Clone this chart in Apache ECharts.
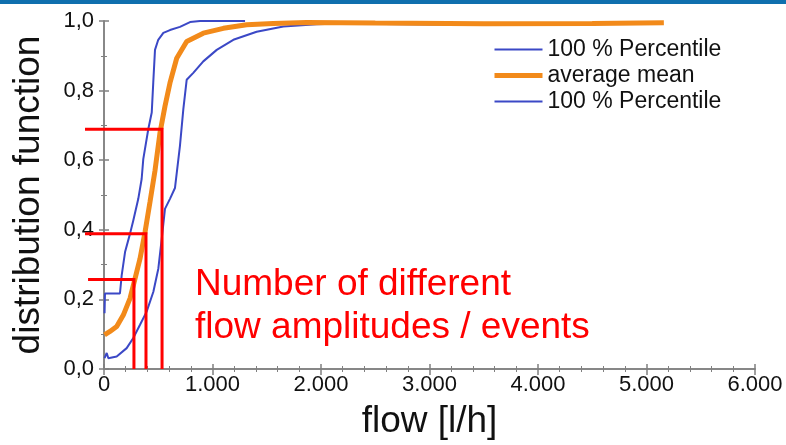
<!DOCTYPE html>
<html>
<head>
<meta charset="utf-8">
<script src="https://cdn.jsdelivr.net/npm/echarts@6/dist/echarts.min.js"></script>
<style>html,body{margin:0;padding:0;background:#fff}#c{width:786px;height:445px}</style>
</head>
<body>
<div id="c"></div>
<script>
// ---- data ----
var xTicks = [0, 1000, 2000, 3000, 4000, 5000, 6000];
var yTicks = [0, 0.2, 0.4, 0.6, 0.8, 1.0];
var seriesNames = ['100 % Percentile', 'average mean', '100 % Percentile '];
var lowerFlow = [5, 9, 147, 163, 194, 240, 270, 316, 347, 362, 408, 440, 454, 470, 500, 547, 608, 700, 793, 885, 1300];
var lowerCdf  = [0.16, 0.217, 0.217, 0.269, 0.336, 0.389, 0.427, 0.489, 0.546, 0.603, 0.689, 0.737, 0.823, 0.917, 0.946, 0.966, 0.974, 0.983, 0.997, 1.0, 1.0];
var meanFlow = [5, 55, 117, 178, 240, 286, 332, 378, 424, 470, 516, 562, 608, 670, 762, 915, 1100, 1315, 1560, 1868, 2500, 3500, 4500, 5160];
var meanCdf  = [0.098, 0.108, 0.122, 0.155, 0.203, 0.26, 0.317, 0.393, 0.48, 0.57, 0.679, 0.755, 0.822, 0.893, 0.941, 0.965, 0.979, 0.989, 0.993, 0.996, 0.994, 0.992, 0.993, 0.995];
var upperFlow = [5, 25, 40, 117, 209, 270, 332, 393, 455, 501, 532, 562, 608, 654, 700, 731, 762, 823, 915, 1039, 1192, 1407, 1653, 1960, 2175, 3000, 4200];
var upperCdf  = [0.031, 0.046, 0.031, 0.036, 0.06, 0.089, 0.127, 0.165, 0.222, 0.289, 0.374, 0.46, 0.489, 0.52, 0.641, 0.746, 0.831, 0.851, 0.884, 0.917, 0.946, 0.969, 0.984, 0.991, 0.993, 0.99, 0.99];
// annotation lines (horizontal from left start to the curve, then down to the axis)
var annotLevel = [0.689, 0.389, 0.257];
var annotFlow  = [535, 387, 276];
var annotStart = [-175, -175, -147];
var annotText = 'Number of different\nflow amplitudes / events';

function zip(a, b) { return a.map(function (v, i) { return [v, b[i]]; }); }

var blue = '#3b48c6', orange = '#f28a1a', red = '#ff0000', axisGray = '#808080';
var font = "'Liberation Sans', Arial, sans-serif";

var annotData = annotLevel.map(function (lv, i) { return [annotStart[i], annotFlow[i], lv]; });

var chart = echarts.init(document.getElementById('c'), null, { renderer: 'canvas' });
chart.setOption({
  animation: false,
  backgroundColor: '#fff',
  textStyle: { fontFamily: font },
  grid: { left: 104, right: 31, top: 21, bottom: 74 },
  legend: {
    data: [
      { name: seriesNames[0], lineStyle: { width: 2 } },
      { name: seriesNames[1], lineStyle: { width: 5 } },
      { name: seriesNames[2], lineStyle: { width: 2 } }
    ],
    orient: 'vertical', left: 487, top: 33,
    itemWidth: 48, itemHeight: 14, itemGap: 3,
    itemStyle: { opacity: 0 },
    textStyle: { fontSize: 23, color: '#111', fontFamily: font, lineHeight: 23 },
    formatter: function (n) { return n.trim(); }
  },
  xAxis: [{
    type: 'value', min: 0, max: 6000, interval: 1000,
    name: 'flow [l/h]', nameLocation: 'middle', nameGap: 34,
    nameTextStyle: { fontSize: 37, color: '#111', fontFamily: font },
    axisLine: { show: true, lineStyle: { color: axisGray, width: 1.5 } },
    axisTick: { show: true, length: 6, lineStyle: { color: axisGray, width: 1.5 } },
    minorTick: { show: true, splitNumber: 5, length: 3, lineStyle: { color: axisGray } },
    splitLine: { show: false },
    axisLabel: { fontSize: 22, color: '#111', margin: 5, fontFamily: font,
      formatter: function (v) { return String(v).replace(/\B(?=(\d{3})+(?!\d))/g, '.'); } }
  }, {
    type: 'value', position: 'top', min: 0, max: 6000, interval: 1000,
    axisLine: { show: true, lineStyle: { color: axisGray, width: 1.5 } },
    axisTick: { show: true, length: 5, lineStyle: { color: axisGray, width: 1.5 } },
    minorTick: { show: true, splitNumber: 5, length: 3, lineStyle: { color: axisGray } },
    splitLine: { show: false }, axisLabel: { show: false }
  }],
  yAxis: [{
    type: 'value', min: 0, max: 1, interval: 0.2,
    name: 'distribution function', nameLocation: 'middle', nameGap: 57,
    nameTextStyle: { fontSize: 37, color: '#111', fontFamily: font },
    axisLine: { show: true, lineStyle: { color: axisGray, width: 1.5 } },
    axisTick: { show: true, length: 5, lineStyle: { color: axisGray, width: 1.5 } },
    minorTick: { show: true, splitNumber: 2, length: 3, lineStyle: { color: axisGray } },
    splitLine: { show: false },
    axisLabel: { fontSize: 22, color: '#111', margin: 10, fontFamily: font,
      formatter: function (v) { return v.toFixed(1).replace('.', ','); } }
  }, {
    type: 'value', position: 'right', min: 0, max: 1, interval: 0.2,
    axisLine: { show: true, lineStyle: { color: axisGray, width: 1.5 } },
    axisTick: { show: true, length: 5, lineStyle: { color: axisGray, width: 1.5 } },
    minorTick: { show: true, splitNumber: 2, length: 3, lineStyle: { color: axisGray } },
    splitLine: { show: false }, axisLabel: { show: false }
  }],
  graphic: [
    { type: 'rect', left: 0, top: 0, shape: { width: 786, height: 4 }, style: { fill: '#0f6fae' } },
    { type: 'text', left: 195, top: 263,
      style: { text: annotText, font: '37px ' + font, fill: red, lineHeight: 43 } }
  ],
  series: [
    { name: seriesNames[0], type: 'line', symbol: 'none', data: zip(lowerFlow, lowerCdf),
      lineStyle: { color: blue, width: 2 }, itemStyle: { color: blue }, z: 2 },
    { name: seriesNames[2], type: 'line', symbol: 'none', data: zip(upperFlow, upperCdf),
      lineStyle: { color: blue, width: 2 }, itemStyle: { color: blue }, z: 2 },
    { name: seriesNames[1], type: 'line', symbol: 'none', data: zip(meanFlow, meanCdf),
      lineStyle: { color: orange, width: 5 }, itemStyle: { color: orange }, z: 3 },
    { type: 'custom', clip: false, silent: true, z: 5,
      encode: { x: [0, 1], y: 2 },
      data: annotData,
      renderItem: function (params, api) {
        var lv = api.value(2);
        var p0 = api.coord([api.value(0), lv]);
        var p1 = api.coord([api.value(1), lv]);
        var p2 = api.coord([api.value(1), 0]);
        return { type: 'polyline', shape: { points: [p0, p1, p2] },
          style: { stroke: red, lineWidth: 3, fill: null } };
      }
    }
  ]
});
</script>
</body>
</html>
